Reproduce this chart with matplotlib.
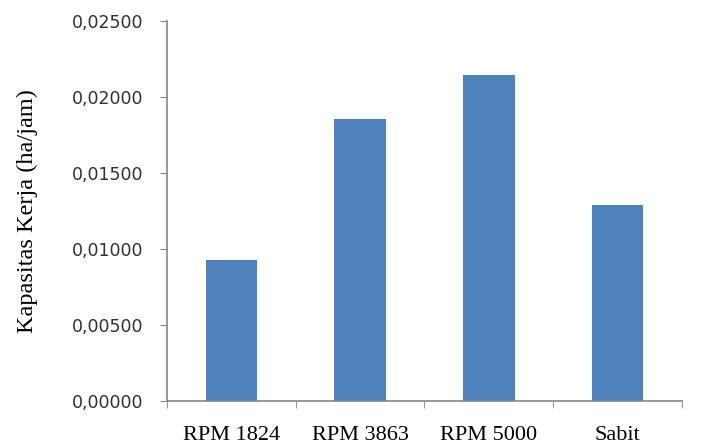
import matplotlib
matplotlib.use("Agg")
import matplotlib.pyplot as plt
import numpy as np

categories = ["RPM 1824", "RPM 3863", "RPM 5000", "Sabit"]
kapasitas = [0.00928, 0.01857, 0.02146, 0.01290]
y_ticks = [0.0, 0.005, 0.010, 0.015, 0.020, 0.025]

bar_color = "#4F81BD"
axis_color = "#868686"

fig = plt.figure(figsize=(7.11, 4.46), dpi=100)
ax = fig.add_axes([0.235, 0.101, 0.724, 0.852])

x = np.arange(len(categories))
ax.bar(x, kapasitas, width=0.4, color=bar_color)

ax.set_xlim(-0.5, len(categories) - 0.5)
ax.set_ylim(0, 0.025)
ax.set_yticks(y_ticks)
ax.set_yticklabels([f"{v:.5f}".replace(".", ",") for v in y_ticks],
                   family="DejaVu Sans", fontsize=12.5, color="#303030")

ax.set_xticks(x)
ax.set_xticklabels(categories, family="Liberation Serif", fontsize=16)
ax.set_xticks(np.arange(len(categories) + 1) - 0.5, minor=True)
ax.tick_params(axis="x", which="major", length=0, pad=18)
ax.tick_params(axis="x", which="minor", length=5, color=axis_color, direction="out")
ax.tick_params(axis="y", length=5, color=axis_color, direction="out", pad=12)

for side in ["top", "right"]:
    ax.spines[side].set_visible(False)
for side in ["left", "bottom"]:
    ax.spines[side].set_color(axis_color)
    ax.spines[side].set_linewidth(1.2)

ax.set_ylabel("Kapasitas Kerja (ha/jam)", family="Liberation Serif", fontsize=17.5)
ax.yaxis.set_label_coords(-0.25, 0.5)

fig.savefig("out.png", dpi=100)
